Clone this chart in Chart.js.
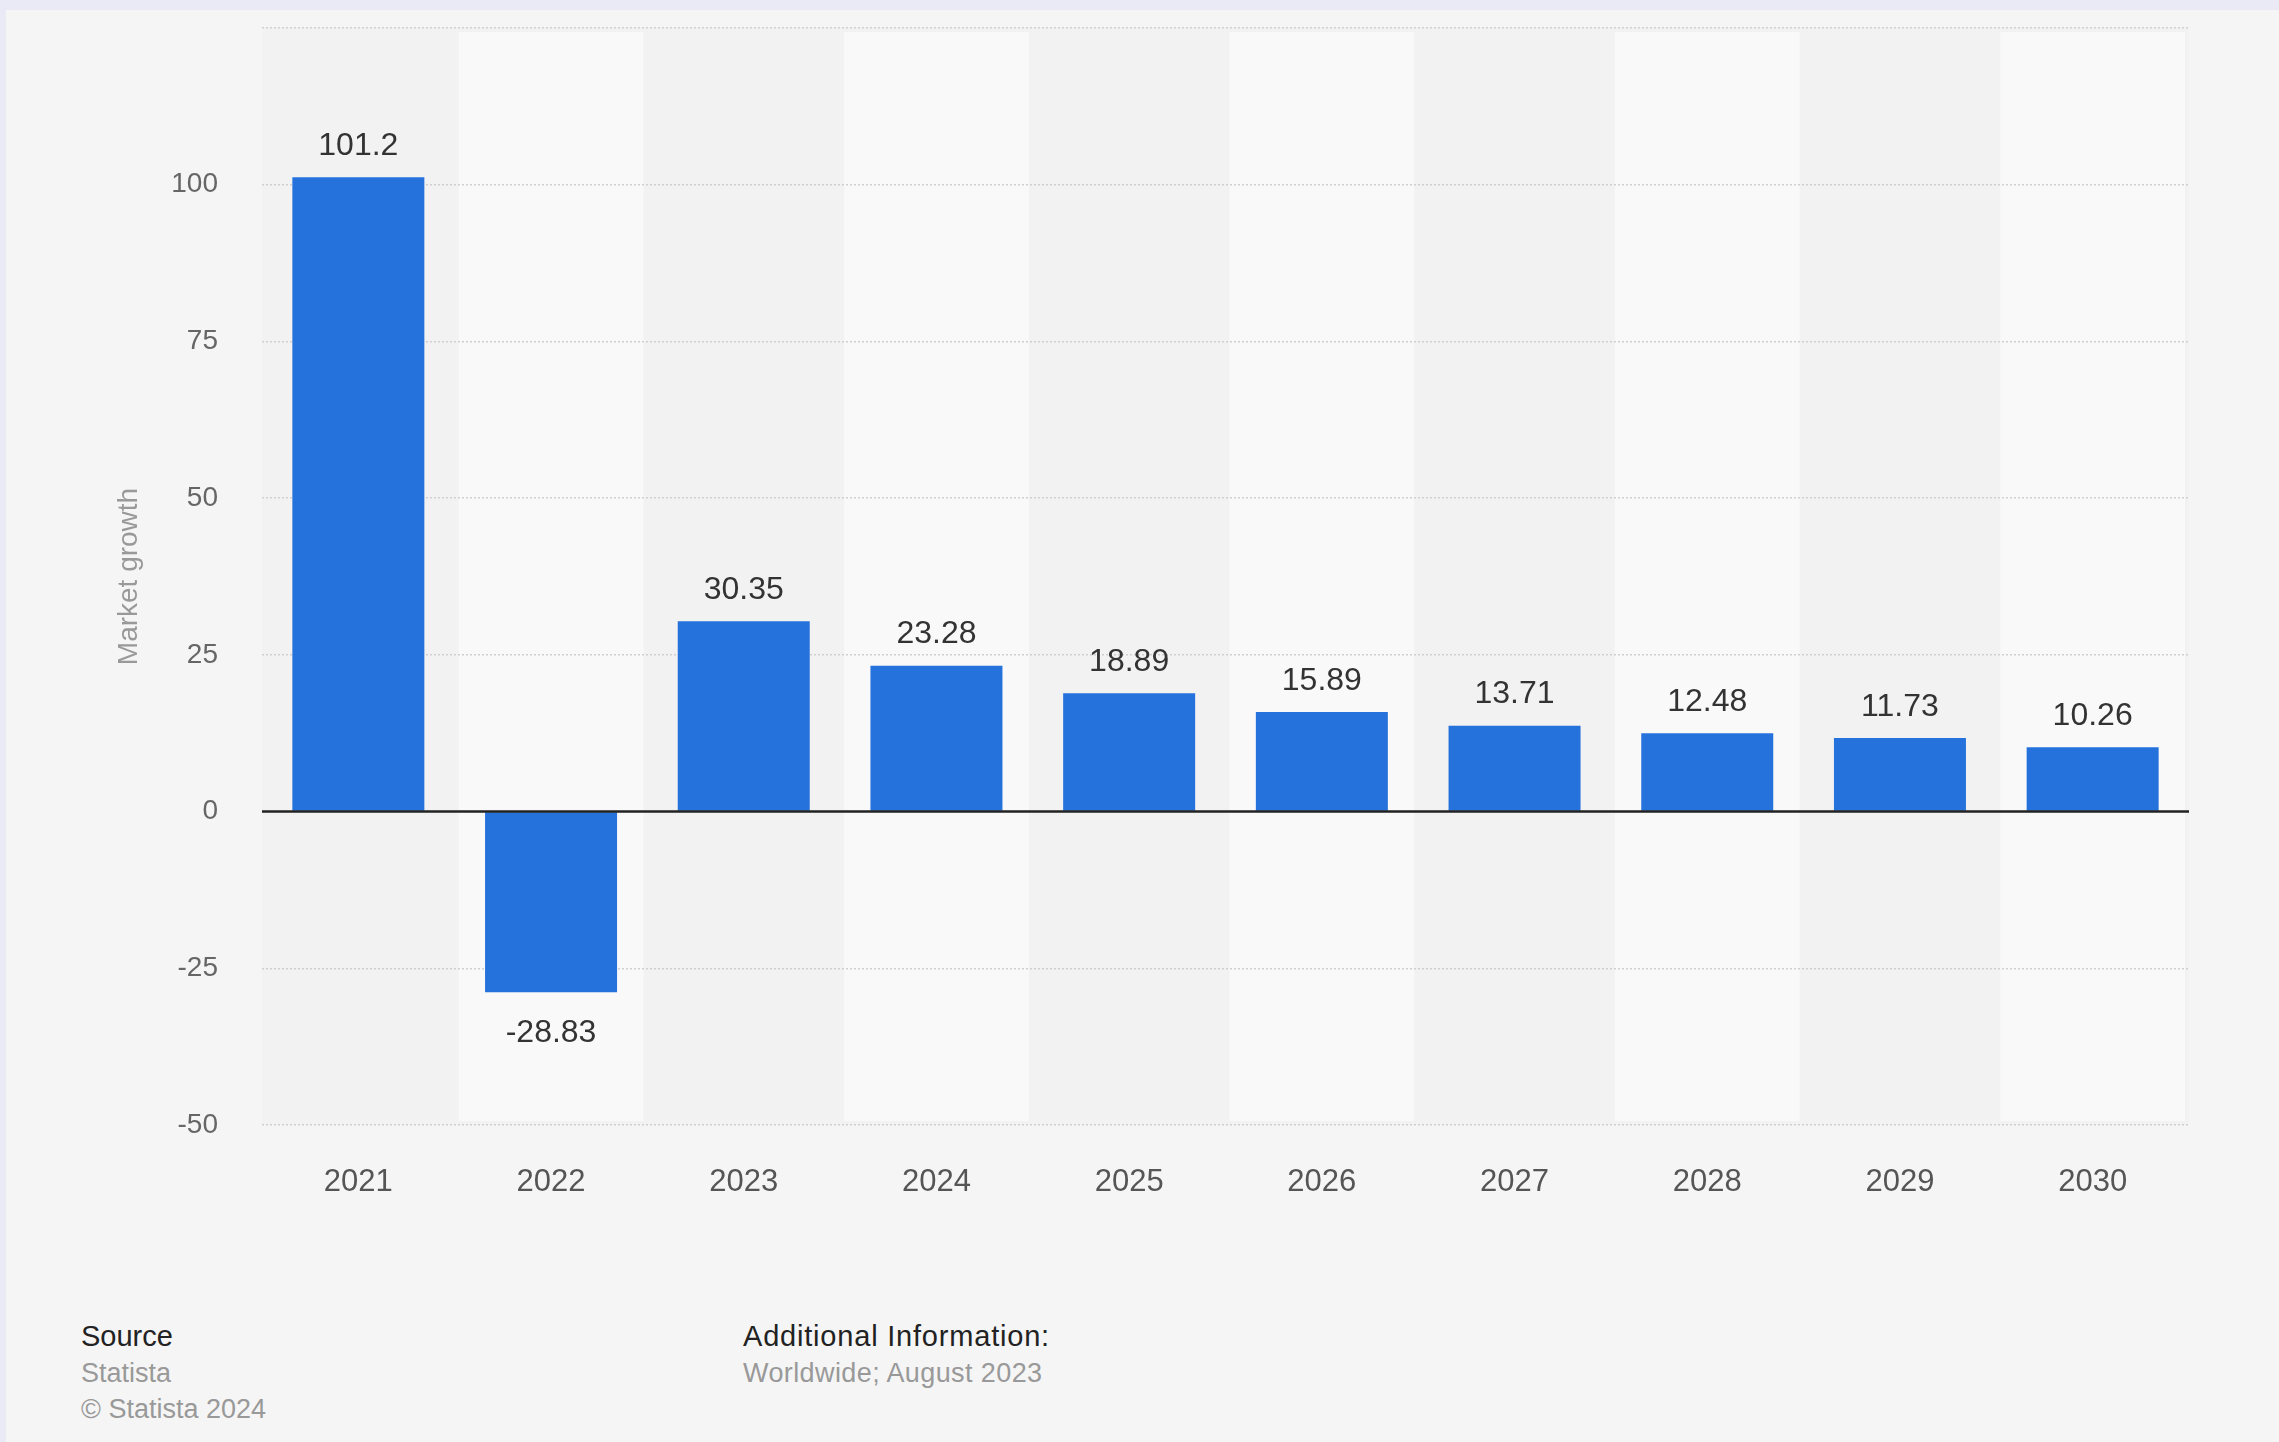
<!DOCTYPE html>
<html>
<head>
<meta charset="utf-8">
<script src="https://cdn.jsdelivr.net/npm/chart.js@4.4.1/dist/chart.umd.min.js"></script>
<style>
  html, body { margin: 0; padding: 0; }
  body { width: 2279px; height: 1442px; background: #eae9f6; position: relative; overflow: hidden; font-family: "Liberation Sans", Arial, sans-serif; }
  #card { position: absolute; left: 6px; top: 10px; right: 0; bottom: 0; background: #f5f5f5; }
  #wrap { position: absolute; left: 0; top: 0; width: 2279px; height: 1230px; }
  .foot { position: absolute; line-height: 36px; font-size: 27px; color: #999; }
  .foot b { font-weight: normal; color: #222; font-size: 29px; }
  .foot.info { letter-spacing: 0.4px; }
  .foot.info b { letter-spacing: 0.8px; }
</style>
</head>
<body>
<div id="card"></div>
<div id="wrap"><canvas id="chart"></canvas></div>
<div class="foot" style="left:81px; top:1318px;"><b>Source</b><br>Statista<br>© Statista 2024</div>
<div class="foot info" style="left:743px; top:1318px;"><b>Additional Information:</b><br>Worldwide; August 2023</div>
<script>
const years = ['2021', '2022', '2023', '2024', '2025', '2026', '2027', '2028', '2029', '2030'];
const growth = [101.2, -28.83, 30.35, 23.28, 18.89, 15.89, 13.71, 12.48, 11.73, 10.26];
const yTicks = [-50, -25, 0, 25, 50, 75, 100, 125];

const BLUE = '#2672dc';
const FONT = '"Liberation Sans", Arial, sans-serif';

// alternating column bands behind the bars
const bands = {
    id: 'bands',
    beforeDraw(chart) {
        const { ctx, chartArea: a, scales: { x } } = chart;
        const w = (a.right - a.left) / years.length;
        ctx.save();
        ctx.fillStyle = '#f2f2f2';
        ctx.fillRect(a.left, a.top, a.right - a.left, a.bottom - a.top);
        ctx.fillStyle = '#f9f9f9';
        years.forEach((_, i) => {
            if (i % 2 === 1) {
                const cx = x.getPixelForValue(i);
                ctx.fillRect(cx - w / 2 + 4, a.top + 4, w - 8, a.bottom - a.top - 8);
            }
        });
        ctx.restore();
    }
};

// zero line + value labels
const labels = {
    id: 'labels',
    afterDatasetsDraw(chart) {
        const { ctx, chartArea: a, scales: { y } } = chart;
        const y0 = y.getPixelForValue(0);
        ctx.save();
        ctx.strokeStyle = '#222';
        ctx.lineWidth = 2.5;
        ctx.beginPath();
        ctx.moveTo(a.left, y0);
        ctx.lineTo(a.right, y0);
        ctx.stroke();

        ctx.fillStyle = '#333';
        ctx.font = '32px ' + FONT;
        ctx.textAlign = 'center';
        ctx.textBaseline = 'middle';
        chart.getDatasetMeta(0).data.forEach((bar, i) => {
            const v = growth[i];
            const py = v >= 0 ? bar.y - 31 : bar.y + 41;
            ctx.fillText(String(v), bar.x, py);
        });
        ctx.restore();
    }
};

new Chart(document.getElementById('chart'), {
    type: 'bar',
    data: {
        labels: years,
        datasets: [{
            data: growth,
            backgroundColor: BLUE,
            barPercentage: 0.685,
            categoryPercentage: 1
        }]
    },
    options: {
        responsive: true,
        maintainAspectRatio: false,
        animation: false,
        layout: { padding: { top: 28, right: 90, bottom: 0, left: 0 } },
        plugins: { legend: { display: false }, tooltip: { enabled: false } },
        scales: {
            x: {
                grid: { display: false },
                border: { display: false },
                ticks: {
                    color: '#555',
                    padding: 31,
                    font: { family: FONT, size: 31 }
                },
                afterFit: s => { s.height = 105; s.paddingLeft = 0; s.paddingRight = 0; }
            },
            y: {
                min: -50,
                max: 125,
                afterBuildTicks: s => { s.ticks = yTicks.map(v => ({ value: v })); },
                grid: {
                    color: c => c.tick && c.tick.value === 0 ? 'rgba(0,0,0,0)' : '#cfcfcf',
                    lineWidth: 1.5,
                    drawTicks: false
                },
                border: { display: false, dash: [2, 2] },
                ticks: {
                    color: '#666',
                    padding: 44,
                    font: { family: FONT, size: 28 },
                    callback: v => v === 125 ? '' : v
                },
                title: {
                    display: true,
                    text: 'Market growth',
                    color: '#999',
                    font: { family: FONT, size: 28 },
                    padding: { top: 112, bottom: 0 }
                },
                afterFit: s => { s.width = 262; s.paddingTop = 0; s.paddingBottom = 0; }
            }
        }
    },
    plugins: [bands, labels]
});
</script>
</body>
</html>
